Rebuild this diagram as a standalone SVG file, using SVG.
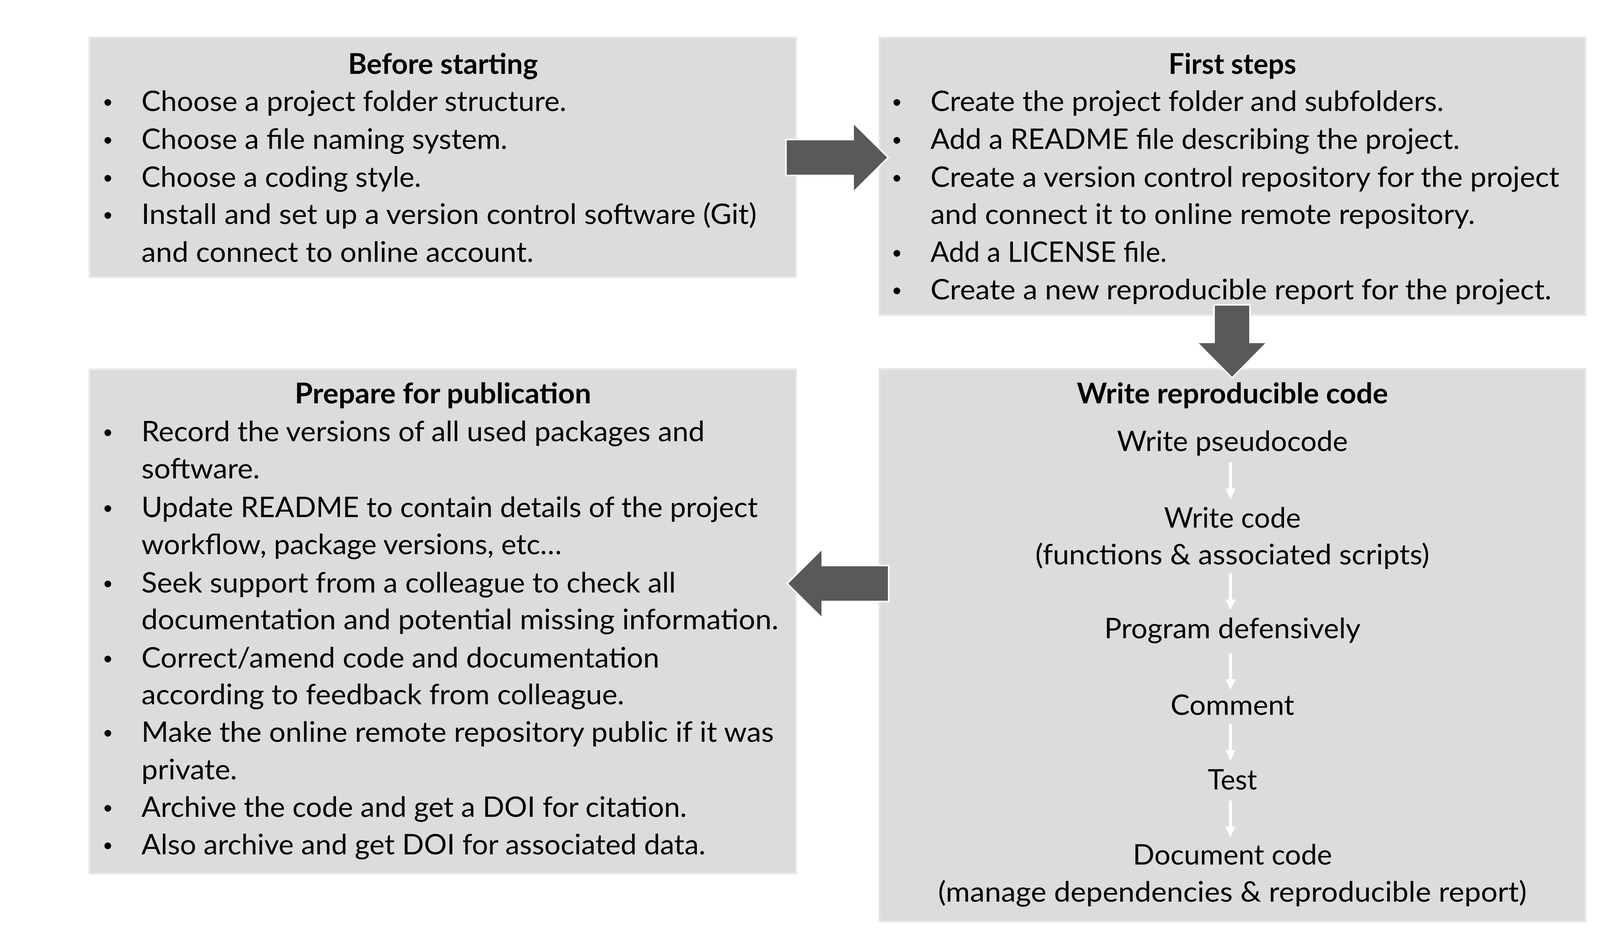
<svg xmlns="http://www.w3.org/2000/svg" width="4266" height="2400" viewBox="0 0 4266 2400">
<defs>
<style>
.box{fill:#DCDCDC;stroke:#E6E6E6;stroke-width:5}
.t{font-family:Lato,"Open Sans","Liberation Sans",sans-serif;font-size:72px;fill:#000000}
.h{font-family:Lato,"Open Sans","Liberation Sans",sans-serif;font-size:72px;font-weight:bold;fill:#000000;text-anchor:middle}
.c{text-anchor:middle}
.b{font-family:"Liberation Sans",Arial,sans-serif;font-size:64px;fill:#000000;text-anchor:middle}
.big{fill:#595959;stroke:#FFFFFF;stroke-width:4;stroke-linejoin:miter}
.flow{stroke:#FFFFFF;stroke-width:8;fill:none}
</style>
<marker id="wh" viewBox="0 0 27 26" refX="0" refY="13" markerWidth="27" markerHeight="26" markerUnits="userSpaceOnUse" orient="auto">
<path d="M0,0 L27,13 L0,26 Z" fill="#FFFFFF"/>
</marker>
</defs>
<rect x="0" y="0" width="4266" height="2400" fill="#FFFFFF"/>

<g id="before-starting">
<rect class="box" x="229.5" y="96.5" width="1808" height="612"/>
<text class="h" x="1134" y="189" textLength="486" lengthAdjust="spacingAndGlyphs">Before starting</text>
<text class="b" x="276" y="284">•</text>
<text class="t" x="362" y="284" textLength="1088" lengthAdjust="spacingAndGlyphs">Choose a project folder structure.</text>
<text class="b" x="276" y="381">•</text>
<text class="t" x="362" y="381" textLength="937" lengthAdjust="spacingAndGlyphs">Choose a file naming system.</text>
<text class="b" x="276" y="478">•</text>
<text class="t" x="362" y="478" textLength="716" lengthAdjust="spacingAndGlyphs">Choose a coding style.</text>
<text class="b" x="276" y="573">•</text>
<text class="t" x="362" y="573" textLength="1575" lengthAdjust="spacingAndGlyphs">Install and set up a version control software (Git)</text>
<text class="t" x="362" y="670" textLength="1004" lengthAdjust="spacingAndGlyphs">and connect to online account.</text>
</g>

<g id="first-steps">
<rect class="box" x="2251.5" y="96.5" width="1807" height="709"/>
<text class="h" x="3155" y="189" textLength="327" lengthAdjust="spacingAndGlyphs">First steps</text>
<text class="b" x="2296" y="284">•</text>
<text class="t" x="2382" y="284" textLength="1314" lengthAdjust="spacingAndGlyphs">Create the project folder and subfolders.</text>
<text class="b" x="2296" y="381">•</text>
<text class="t" x="2382" y="381" textLength="1355" lengthAdjust="spacingAndGlyphs">Add a README file describing the project.</text>
<text class="b" x="2296" y="478">•</text>
<text class="t" x="2382" y="478" textLength="1610" lengthAdjust="spacingAndGlyphs">Create a version control repository for the project</text>
<text class="t" x="2382" y="573" textLength="1394" lengthAdjust="spacingAndGlyphs">and connect it to online remote repository.</text>
<text class="b" x="2296" y="670">•</text>
<text class="t" x="2382" y="670" textLength="605" lengthAdjust="spacingAndGlyphs">Add a LICENSE file.</text>
<text class="b" x="2296" y="766">•</text>
<text class="t" x="2382" y="766" textLength="1590" lengthAdjust="spacingAndGlyphs">Create a new reproducible report for the project.</text>
</g>

<g id="write-reproducible-code">
<rect class="box" x="2251.5" y="944.5" width="1807" height="1413"/>
<text class="h" x="3155" y="1032" textLength="797" lengthAdjust="spacingAndGlyphs">Write reproducible code</text>
<text class="t c" x="3155" y="1154" textLength="591" lengthAdjust="spacingAndGlyphs">Write pseudocode</text>
<text class="t c" x="3155" y="1350" textLength="350" lengthAdjust="spacingAndGlyphs">Write code</text>
<text class="t c" x="3155" y="1444" textLength="1009" lengthAdjust="spacingAndGlyphs">(functions &amp; associated scripts)</text>
<text class="t c" x="3155" y="1633" textLength="656" lengthAdjust="spacingAndGlyphs">Program defensively</text>
<text class="t c" x="3155" y="1829" textLength="317" lengthAdjust="spacingAndGlyphs">Comment</text>
<text class="t c" x="3155" y="2020" textLength="126" lengthAdjust="spacingAndGlyphs">Test</text>
<text class="t c" x="3155" y="2212" textLength="510" lengthAdjust="spacingAndGlyphs">Document code</text>
<text class="t c" x="3155" y="2307" textLength="1507" lengthAdjust="spacingAndGlyphs">(manage dependencies &amp; reproducible report)</text>
</g>

<g id="prepare-for-publication">
<rect class="box" x="229.5" y="945.5" width="1808" height="1289"/>
<text class="h" x="1134" y="1032" textLength="759" lengthAdjust="spacingAndGlyphs">Prepare for publication</text>
<text class="b" x="276" y="1129">•</text>
<text class="t" x="362" y="1129" textLength="1442" lengthAdjust="spacingAndGlyphs">Record the versions of all used packages and</text>
<text class="t" x="362" y="1224" textLength="303" lengthAdjust="spacingAndGlyphs">software.</text>
<text class="b" x="276" y="1323">•</text>
<text class="t" x="362" y="1323" textLength="1578" lengthAdjust="spacingAndGlyphs">Update README to contain details of the project</text>
<text class="t" x="362" y="1418" textLength="1076" lengthAdjust="spacingAndGlyphs">workflow, package versions, etc…</text>
<text class="b" x="276" y="1516">•</text>
<text class="t" x="362" y="1516" textLength="1368" lengthAdjust="spacingAndGlyphs">Seek support from a colleague to check all</text>
<text class="t" x="362" y="1610" textLength="1631" lengthAdjust="spacingAndGlyphs">documentation and potential missing information.</text>
<text class="b" x="276" y="1708">•</text>
<text class="t" x="362" y="1708" textLength="1326" lengthAdjust="spacingAndGlyphs">Correct/amend code and documentation</text>
<text class="t" x="362" y="1802" textLength="1236" lengthAdjust="spacingAndGlyphs">according to feedback from colleague.</text>
<text class="b" x="276" y="1898">•</text>
<text class="t" x="362" y="1898" textLength="1619" lengthAdjust="spacingAndGlyphs">Make the online remote repository public if it was</text>
<text class="t" x="362" y="1994" textLength="245" lengthAdjust="spacingAndGlyphs">private.</text>
<text class="b" x="276" y="2090">•</text>
<text class="t" x="362" y="2090" textLength="1396" lengthAdjust="spacingAndGlyphs">Archive the code and get a DOI for citation.</text>
<text class="b" x="276" y="2186">•</text>
<text class="t" x="362" y="2186" textLength="1444" lengthAdjust="spacingAndGlyphs">Also archive and get DOI for associated data.</text>
</g>

<g id="connectors">
<polygon class="big" points="2012,357 2184,357 2184,314 2274,403 2184,492 2184,449 2012,449"/>
<polygon class="big" points="3108,780 3200,780 3200,876 3244,876 3154,967 3064,876 3108,876"/>
<polygon class="big" points="2275,1447 2105,1447 2105,1404 2015,1493 2105,1582 2105,1539 2275,1539"/>
<line class="flow" x1="3150" y1="1182" x2="3150" y2="1250" marker-end="url(#wh)"/>
<line class="flow" x1="3150" y1="1467" x2="3150" y2="1534" marker-end="url(#wh)"/>
<line class="flow" x1="3150" y1="1672" x2="3150" y2="1738" marker-end="url(#wh)"/>
<line class="flow" x1="3150" y1="1853" x2="3150" y2="1919" marker-end="url(#wh)"/>
<line class="flow" x1="3150" y1="2048" x2="3150" y2="2115" marker-end="url(#wh)"/>
</g>
</svg>
